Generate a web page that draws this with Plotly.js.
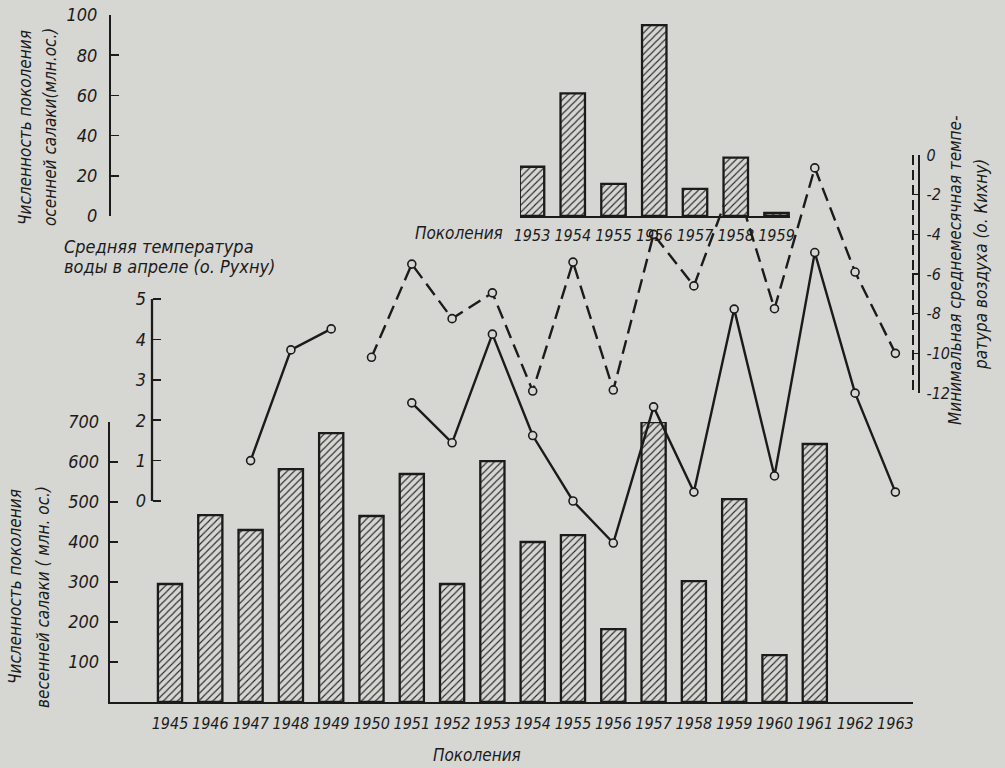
<!DOCTYPE html>
<html><head><meta charset="utf-8">
<script src="https://cdn.plot.ly/plotly-3.0.1.min.js"></script>
<style>html,body{margin:0;padding:0;background:#d6d6d3;} #chart{width:1005px;height:768px;}</style>
</head><body><div id="chart"></div>
<script>
// ---- data ----
const springYears = [1945,1946,1947,1948,1949,1950,1951,1952,1953,1954,1955,1956,1957,1958,1959,1960,1961];
const springAbundance = [295,467,430,582,672,465,570,295,602,400,417,182,700,302,507,117,645];
const autumnYears = [1953,1954,1955,1956,1957,1958,1959];
const autumnAbundance = [24.5,61,16,95,13.5,29,1.5];
const waterYears = [1947,1948,1949,1950,1951,1952,1953,1954,1955,1956,1957,1958,1959,1960,1961,1962,1963];
const waterTemp = [1.0,3.74,4.26,null,2.43,1.44,4.13,1.62,0.0,-1.04,2.33,0.22,4.75,0.62,6.15,2.67,0.22];
const airYears = [1950,1951,1952,1953,1954,1955,1956,1957,1958,1959,1960,1961,1962,1963];
const airTemp = [-10.2,-5.5,-8.25,-6.95,-11.9,-5.4,-11.85,-4.0,-6.6,-1.15,-7.75,-0.65,-5.9,-10.0];
const bottomTicks = [1945,1946,1947,1948,1949,1950,1951,1952,1953,1954,1955,1956,1957,1958,1959,1960,1961,1962,1963];
const topTicks = [1953,1954,1955,1956,1957,1958,1959];
const springTickVals = [100,200,300,400,500,600,700];
const autumnTickVals = [0,20,40,60,80,100];
const waterTickVals = [0,1,2,3,4,5];
const airTickVals = [0,-2,-4,-6,-8,-10,-12];
const airTickText = ['0','-2','-4','-6','-8','-10','-12'];

// ---- styling ----
const W = 1005, H = 768;
const px = x => x / W, py = y => 1 - y / H;
const BG = '#d6d6d3', INK = '#1b1b1b';
const FONT = '"DejaVu Sans Condensed", "Liberation Sans Narrow", "DejaVu Sans", sans-serif';
const f = (s) => ({family: FONT, size: s, color: INK, style: 'italic'});
const hatch = {shape: '/', size: 5, solidity: 0.22, fgcolor: '#2a2a2a', bgcolor: BG, fillmode: 'replace'};
const ring = {symbol: 'circle', size: 8, color: BG, line: {color: INK, width: 1.6}};

const traces = [
  {type: 'bar', x: springYears, y: springAbundance, xaxis: 'x', yaxis: 'y', width: 0.6,
   marker: {color: BG, line: {color: INK, width: 2.3}, pattern: hatch}, hoverinfo: 'x+y'},
  {type: 'bar', x: autumnYears, y: autumnAbundance, xaxis: 'x2', yaxis: 'y4', width: 0.6,
   marker: {color: BG, line: {color: INK, width: 2.3}, pattern: hatch}, hoverinfo: 'x+y'},
  {type: 'scatter', mode: 'lines+markers', x: waterYears, y: waterTemp, xaxis: 'x', yaxis: 'y2',
   connectgaps: false, cliponaxis: false, line: {color: INK, width: 2.4}, marker: ring},
  {type: 'scatter', mode: 'lines+markers', x: airYears, y: airTemp, xaxis: 'x', yaxis: 'y3',
   cliponaxis: false, line: {color: INK, width: 2.4, dash: '14px,7px'}, marker: ring}
];

const baseAxis = {showgrid: false, zeroline: false, linecolor: INK, tickcolor: INK, fixedrange: true};

const layout = {
  width: W, height: H, margin: {l: 0, r: 0, t: 0, b: 0},
  paper_bgcolor: BG, plot_bgcolor: 'rgba(0,0,0,0)', showlegend: false,
  font: f(16), bargap: 0,
  xaxis: Object.assign({}, baseAxis, {domain: [px(110), px(913)], range: [1943.511, 1963.437], anchor: 'y',
    showline: true, linewidth: 2.3, ticks: '', tickvals: bottomTicks, tickangle: 0, tickfont: f(16), ticklabelstandoff: 5}),
  yaxis: Object.assign({}, baseAxis, {domain: [py(702), py(422)], range: [0, 700], anchor: 'x',
    showline: true, linewidth: 2.3, ticks: 'inside', ticklen: 8, tickwidth: 1.6,
    tickvals: springTickVals, tickfont: f(18), ticklabelstandoff: 5}),
  yaxis2: Object.assign({}, baseAxis, {domain: [py(561.6), py(238.4)], range: [-1.5, 6.5], anchor: 'free',
    position: px(152), side: 'left', showline: false, ticks: 'inside', ticklen: 8, tickwidth: 1.6,
    tickvals: waterTickVals, tickfont: f(18), ticklabelstandoff: 6}),
  yaxis3: Object.assign({}, baseAxis, {domain: [py(393), py(155)], range: [-12, 0], anchor: 'free',
    position: px(919), side: 'right', showline: true, linewidth: 2.3, ticks: 'inside', ticklen: 6, tickwidth: 1.6,
    tickvals: airTickVals, ticktext: airTickText, tickfont: f(16), ticklabelstandoff: 3}),
  xaxis2: Object.assign({}, baseAxis, {domain: [px(520), px(790)], range: [1952.7055, 1959.331], anchor: 'y4',
    showline: true, linewidth: 2.3, ticks: '', tickvals: topTicks, tickangle: 0, tickfont: f(16), ticklabelstandoff: 3}),
  yaxis4: Object.assign({}, baseAxis, {domain: [py(216), py(15)], range: [0, 100], anchor: 'free',
    position: px(110), side: 'left', showline: true, linewidth: 2.3, ticks: 'inside', ticklen: 8, tickwidth: 1.6,
    tickvals: autumnTickVals, tickfont: f(18), ticklabelstandoff: 8}),
  shapes: [
    {type: 'line', xref: 'paper', yref: 'y2', x0: px(152), x1: px(152), y0: 0, y1: 5, line: {color: INK, width: 2.3}},
    {type: 'line', xref: 'paper', yref: 'y3', x0: px(913), x1: px(913), y0: 0, y1: -12, line: {color: INK, width: 2, dash: '10px,5px'}}
  ],
  annotations: [
    ['Поколения', 477, 755, 0, 'center', 17],
    ['Поколения', 505, 233, 0, 'right', 17],
    ['Средняя температура', 62, 246, 0, 'left', 18],
    ['воды в апреле (о. Рухну)', 62, 266, 0, 'left', 18],
    ['Численность поколения', 25, 128, -90, 'center', 17],
    ['осенней салаки(млн.ос.)', 50, 127, -90, 'center', 17],
    ['Численность поколения', 15, 587, -90, 'center', 17],
    ['весенней салаки ( млн. ос.)', 43, 597, -90, 'center', 17],
    ['Минимальная среднемесячная темпе-', 955, 270, -90, 'center', 17],
    ['ратура воздуха (о. Кихну)', 981, 265, -90, 'center', 17]
  ].map(([t, x, y, a, xa, s]) => ({text: t, xref: 'paper', yref: 'paper', x: px(x), y: py(y),
      xanchor: xa, yanchor: 'middle', textangle: a, showarrow: false, font: f(s)}))
};

Plotly.newPlot('chart', traces, layout, {displayModeBar: false, staticPlot: true});
</script>
</body></html>
